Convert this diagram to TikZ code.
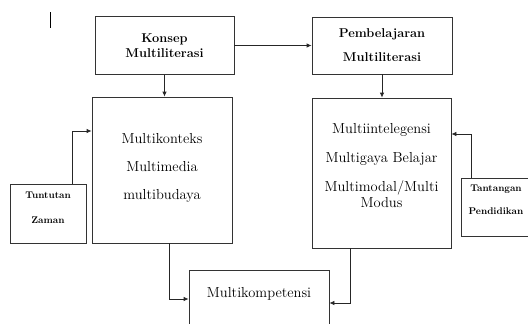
\documentclass[tikz,border=0pt]{standalone}
\usetikzlibrary{arrows.meta, positioning}

\begin{document}
\begin{tikzpicture}[
  x=1pt, y=-1pt,
  box/.style={rectangle, draw=black!80, line width=0.8pt, align=center, inner sep=0pt},
  bigtxt/.style={font=\fontsize{14.5}{16}\selectfont},
  headtxt/.style={font=\fontsize{12.8}{15}\selectfont\bfseries},
  smalltxt/.style={font=\fontsize{9.7}{11}\selectfont\bfseries},
  arrowline/.style={-{Latex[length=5pt,width=4.5pt]}, line width=0.8pt, black!85}
]
  \useasboundingbox (0,0) rectangle (528,324);

  \node[box, headtxt, minimum width=139pt, minimum height=58pt] (konsep) at (164.5,45.5) {Konsep\\Multiliterasi};
  \node[box, headtxt, minimum width=140pt, minimum height=57pt] (pembel) at (382,45.5) {Pembelajaran\\[9pt]Multiliterasi};
  \node[box, bigtxt, minimum width=140pt, minimum height=146pt] (multik) at (162,170) {Multikonteks\\[12pt]Multimedia\\[12pt]multibudaya\\[-9pt]};
  \node[box, bigtxt, minimum width=139pt, minimum height=150pt] (multii) at (381.5,173) {Multiintelegensi\\[13pt]Multigaya Belajar\\[13pt]Multimodal/Multi\\Modus\\};
  \node[box, smalltxt, minimum width=76pt, minimum height=59pt] (tuntut) at (48,213.5) {Tuntutan\\[14pt]Zaman\\[1pt]};
  \node[box, smalltxt, minimum width=70pt, minimum height=58pt] (tantang) at (496,207) {Tantangan\\[12pt]Pendidikan\\[4pt]};
  \node[box, bigtxt, minimum width=140pt, minimum height=61pt, text height=8pt, text depth=15pt] (kompet) at (259,300.5) {Multikompetensi};

  \draw[arrowline] (konsep) -- (pembel);
  \draw[arrowline] (konsep.south) -- (konsep.south |- multik.north);
  \draw[arrowline] (pembel.south) -- (pembel.south |- multii.north);
  \draw[arrowline] ([xshift=24pt]tuntut.north) |- ([yshift=39pt]multik.west);
  \draw[arrowline] ([xshift=-25pt]tantang.north) |- ([yshift=39pt]multii.east);
  \draw[arrowline] ([xshift=7pt]multik.south) |- ([yshift=1.5pt]kompet.west);
  \draw[arrowline] ([xshift=-31.5pt]multii.south) |- ([yshift=-2.5pt]kompet.east);

  % stray mark at top left
  \draw[line width=0.8pt] (50,12) -- (50,28);
\end{tikzpicture}
\end{document}
